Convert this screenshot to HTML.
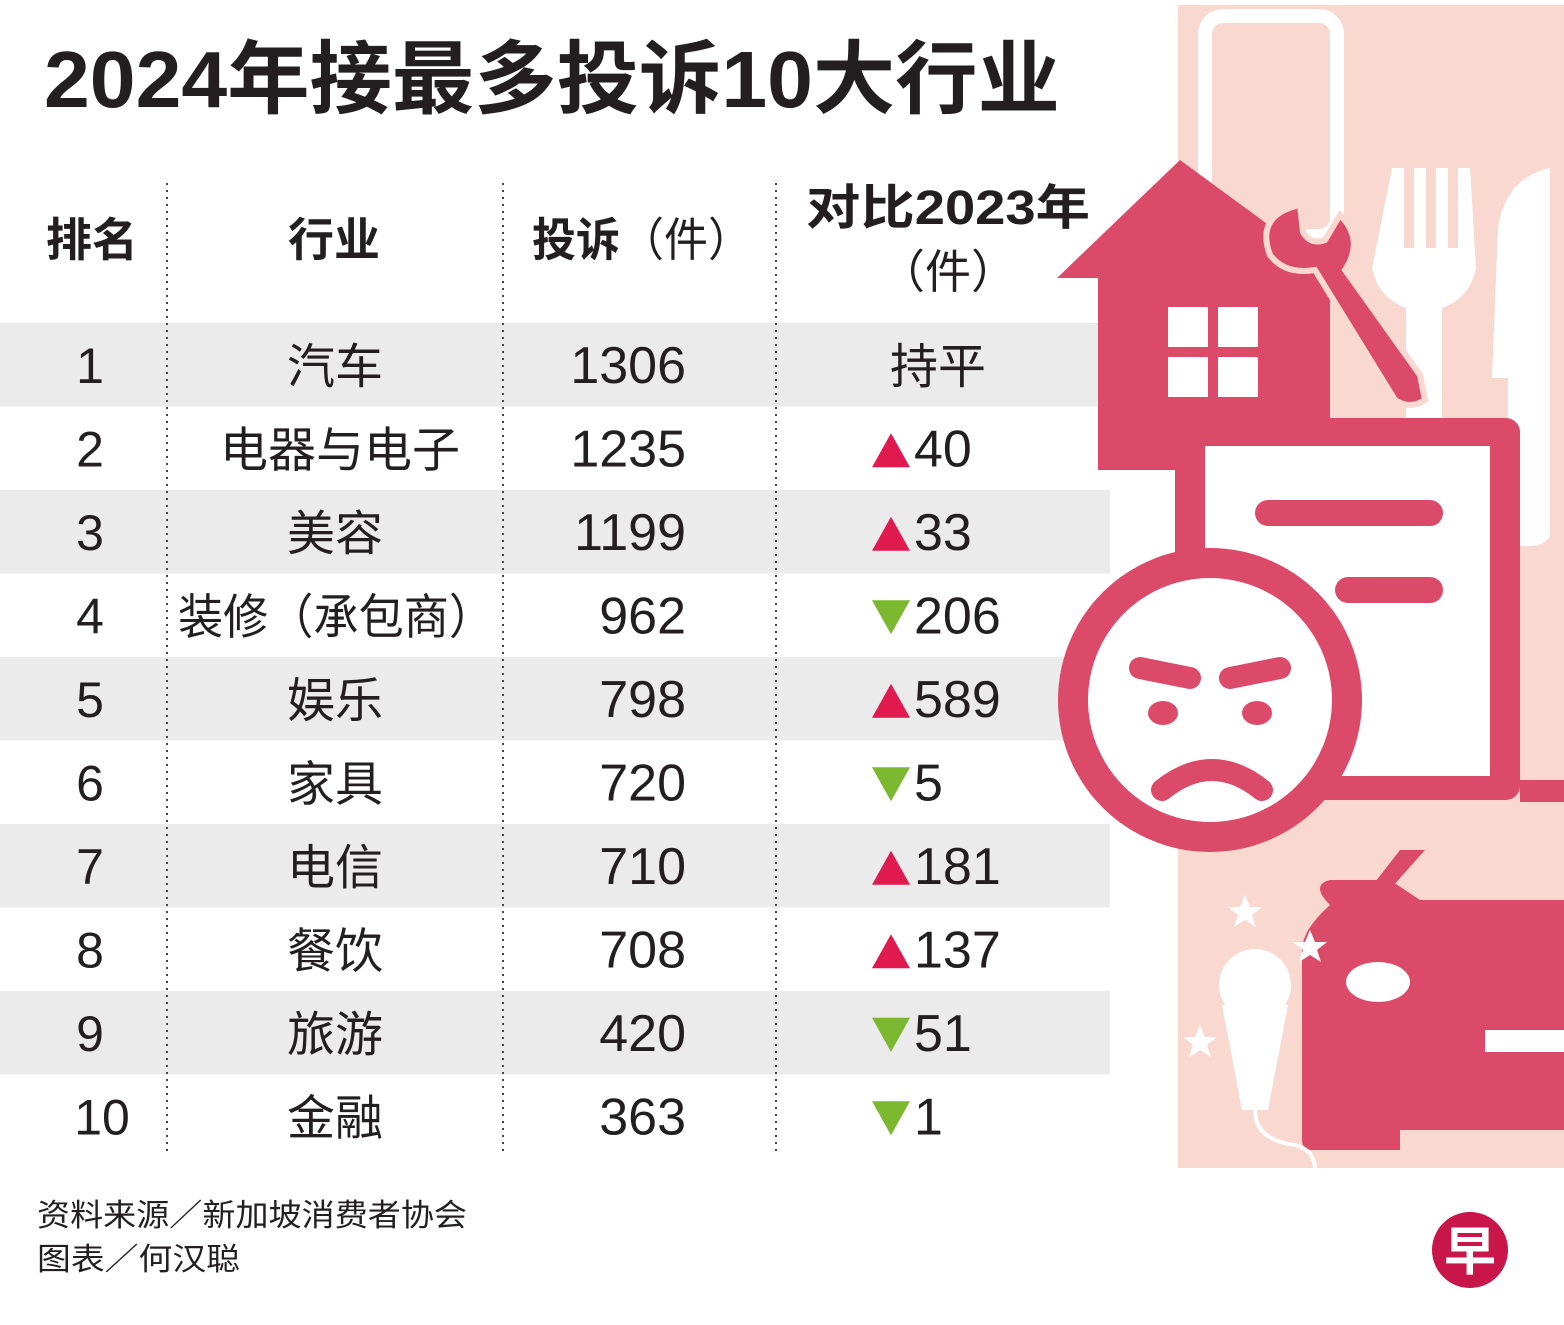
<!DOCTYPE html>
<html><head><meta charset="utf-8"><style>
html,body{margin:0;padding:0;background:#fff;}
svg{display:block;}
text{font-family:"Liberation Sans","Noto Sans CJK SC",sans-serif;fill:#231f20;}
</style></head><body>
<svg width="1564" height="1325" viewBox="0 0 1564 1325" xmlns="http://www.w3.org/2000/svg">
<g id="bands"></g>
<g>
<rect x="1178" y="5" width="386" height="1163" fill="#f9d8cf"/>
<rect x="1205" y="16" width="132" height="220" rx="18" fill="none" stroke="#fff" stroke-width="14"/>
<path d="M1392 168h12v80h10v-80h12v80h10v-80h12v80h10v-80h12l6 100q-6 30 -34 40v160h-36v-160q-28-10-34-40z" fill="#fff"/>
<path d="M1550 168q-45 10-52 60l-6 150h16v160q8 10 22 8q14 0 20-10v-368z" fill="#fff"/>
<path d="M1057 278L1180 160L1330 270V470H1098V278Z" fill="#dc4a6a"/>
<g fill="#fff"><rect x="1168" y="307" width="40" height="40"/><rect x="1218" y="307" width="40" height="40"/><rect x="1168" y="357" width="40" height="40"/><rect x="1218" y="357" width="40" height="40"/></g>
<path d="M1300 205q-45 10-30 50q15 20 45 15l80 130q15 10 30 0l-5-25l-75-105q20-30 -5-55l-15 25q-15 5-22-8z" fill="#dc4a6a" stroke="#f9d8cf" stroke-width="6"/>
<rect x="1175" y="418" width="345" height="382" rx="14" fill="#dc4a6a"/>
<rect x="1205" y="446" width="285" height="330" fill="#fff"/>
<rect x="1255" y="500" width="188" height="26" rx="13" fill="#dc4a6a"/>
<rect x="1335" y="577" width="108" height="26" rx="13" fill="#dc4a6a"/>
<rect x="1520" y="780" width="44" height="22" fill="#dc4a6a"/>
<circle cx="1210" cy="700" r="152" fill="#dc4a6a"/>
<circle cx="1210" cy="700" r="122" fill="#fff"/>
<path d="M1140 668l50 10" stroke="#dc4a6a" stroke-width="22" stroke-linecap="round"/>
<path d="M1280 668l-50 10" stroke="#dc4a6a" stroke-width="22" stroke-linecap="round"/>
<ellipse cx="1163" cy="713" rx="15" ry="12" fill="#dc4a6a"/>
<ellipse cx="1257" cy="713" rx="15" ry="12" fill="#dc4a6a"/>
<path d="M1162 790q50-40 100 0" fill="none" stroke="#dc4a6a" stroke-width="22" stroke-linecap="round"/>
<path d="M1400 850l-35 45h20l40-45z" fill="#dc4a6a"/>
<path d="M1330 905q-20-20 0-25h60l30 20h144v230h-164v20h-88q-10 0 -10-10v-190q0-20 28-45z" fill="#dc4a6a"/>
<ellipse cx="1378" cy="982" rx="32" ry="20" fill="#fff"/>
<rect x="1485" y="1030" width="79" height="22" fill="#fff"/>
<g fill="#fff"><circle cx="1255" cy="985" r="36"/><path d="M1222 1005h66l-20 105h-26z"/><path d="M1255 1110q0 30 40 35q20 5 20 25" stroke="#fff" stroke-width="4" fill="none"/></g>
<g fill="#fff"><path d="M1245 895l5 12h12l-10 8l4 12l-11-7l-11 7l4-12l-10-8h12z"/><path d="M1310 930l5 12h12l-10 8l4 12l-11-7l-11 7l4-12l-10-8h12z"/><path d="M1200 1025l5 12h12l-10 8l4 12l-11-7l-11 7l4-12l-10-8h12z"/></g>
</g>
<text x="44" y="107" font-size="80" font-weight="bold" textLength="1016" lengthAdjust="spacingAndGlyphs">2024年接最多投诉10大行业</text>
<g stroke="#444" stroke-width="2" stroke-dasharray="2 5">
<line x1="167" y1="183" x2="167" y2="1152"/><line x1="503" y1="183" x2="503" y2="1152"/><line x1="776" y1="183" x2="776" y2="1152"/>
</g>
<g font-weight="bold" font-size="46">
<text x="92" y="256" text-anchor="middle">排名</text>
<text x="334" y="256" text-anchor="middle">行业</text>
<text x="532" y="256" textLength="220" lengthAdjust="spacingAndGlyphs">投诉<tspan font-weight="normal">（件）</tspan></text>
<text x="806" y="224" textLength="284" lengthAdjust="spacingAndGlyphs" font-size="48">对比2023年</text>
<text x="948" y="288" text-anchor="middle" font-weight="normal">（件）</text>
</g>
<g id="rows"></g>
<g font-size="31" fill="#333">
<text x="37" y="1226" textLength="430" lengthAdjust="spacingAndGlyphs">资料来源／新加坡消费者协会</text>
<text x="37" y="1270" textLength="203" lengthAdjust="spacingAndGlyphs">图表／何汉聪</text>
</g>
<g><circle cx="1470" cy="1250" r="38" fill="#c8164a"/><text x="1470" y="1270" text-anchor="middle" font-size="52" font-weight="bold" style="fill:#fff">早</text></g>
</svg>
<script>
const ranks=["1","2","3","4","5","6","7","8","9","10"];
const industries=["汽车","电器与电子","美容","装修（承包商）","娱乐","家具","电信","餐饮","旅游","金融"];
const complaints=[1306,1235,1199,962,798,720,710,708,420,363];
const changes=[0,40,33,-206,589,-5,181,137,-51,-1];
const NS="http://www.w3.org/2000/svg";
const rowTop=323,rowH=83.5;
const bands=document.getElementById('bands'),rows=document.getElementById('rows');
function mk(tag,attrs,parent){const e=document.createElementNS(NS,tag);for(const k in attrs)e.setAttribute(k,attrs[k]);parent.appendChild(e);return e;}
ranks.forEach((r,i)=>{
  const y=rowTop+i*rowH;
  if(i%2===0){const b=mk('rect',{x:0,y:y,width:1110,height:rowH,fill:'#ebebeb'},bands);
    
    }
  const base=y+rowH/2+18;
  const t1=mk('text',{x:i===9?102:90,y:base,'font-size':50,'text-anchor':'middle'},rows);t1.textContent=r;
  
  
  const t2=mk('text',{x:i===3?336:(i===1?340:335),y:base,'font-size':48,'text-anchor':'middle'},rows);t2.textContent=industries[i];
  if(i===3){t2.setAttribute('textLength','316');t2.setAttribute('lengthAdjust','spacingAndGlyphs');}
  
  
  const t3=mk('text',{x:686,y:base,'font-size':52,'text-anchor':'end'},rows);t3.textContent=complaints[i];
  
  
  const c=changes[i];
  if(c===0){const t=mk('text',{x:938,y:base,'font-size':48,'text-anchor':'middle'},rows);t.textContent='持平';
    
    }
  else{
    const cy=y+rowH/2+2;
    const tri=c>0?`872,${cy+17} 910,${cy+17} 891,${cy-17}`:`872,${cy-17} 910,${cy-17} 891,${cy+17}`;
    const p=mk('polygon',{points:tri,fill:c>0?'#e0194f':'#7cb82f'},rows);
    
    
    const t=mk('text',{x:914,y:base,'font-size':52},rows);t.textContent=Math.abs(c);
    
    
  }
});
</script>
</body></html>
